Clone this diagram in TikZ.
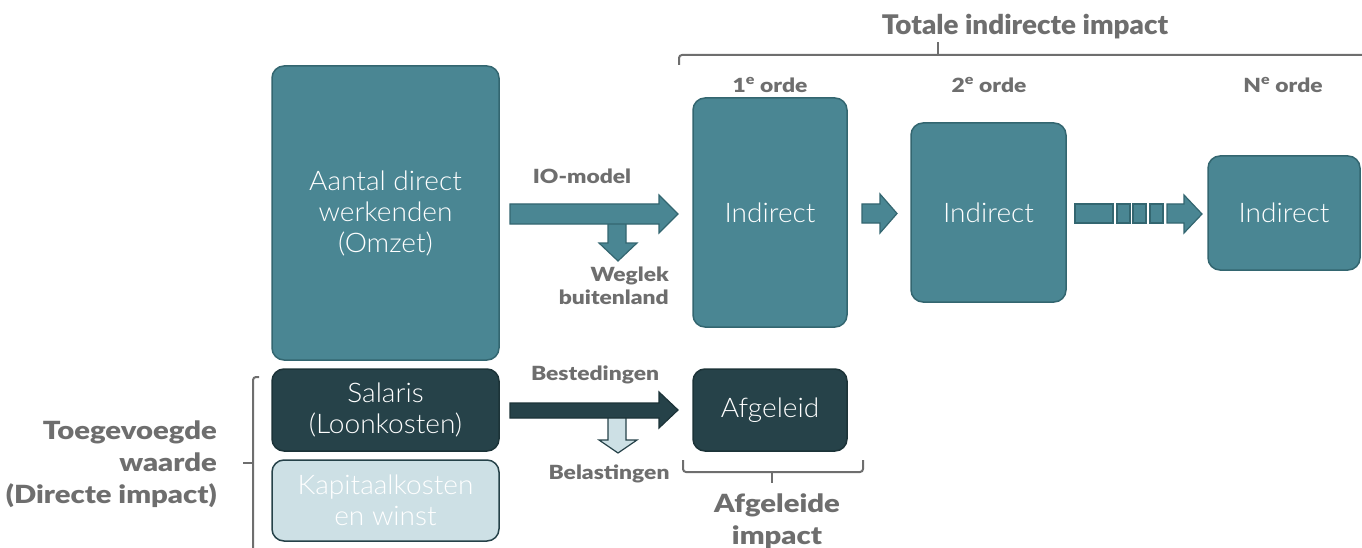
\documentclass[tikz,border=0pt]{standalone}
\usepackage{fontspec}
\setmainfont{Lato}
\newfontfamily\lightfont{Lato Light}[FakeStretch=1.04]
\newfontfamily\heavyfont{Lato Black}[FakeStretch=1.17]
\newfontfamily\titlefont{Lato Black}[FakeStretch=1.03]
\definecolor{tealfill}{HTML}{4A8693}
\definecolor{tealedge}{HTML}{336670}
\definecolor{darkfill}{HTML}{264249}
\definecolor{darkedge}{HTML}{1C3338}
\definecolor{lightfill}{HTML}{CDE0E5}
\definecolor{labelgray}{HTML}{6E6E6E}
\tikzset{
  blk/.style={rounded corners=12pt, line width=1.5pt, inner sep=0pt, align=center,
    font=\lightfont\fontsize{27}{31}\selectfont, text=white},
  tealbox/.style={blk, draw=tealedge, fill=tealfill},
  darkbox/.style={blk, draw=darkedge, fill=darkfill},
  lightbox/.style={blk, draw=darkfill, fill=lightfill},
  bigarrow/.style={line width=1.2pt, line join=miter},
  lbl/.style={font=\heavyfont\fontsize{19.5}{23}\selectfont, text=labelgray, inner sep=0pt},
  biglbl/.style={font=\heavyfont\fontsize{25}{32}\selectfont, text=labelgray, inner sep=0pt},
  brace/.style={draw=labelgray, line width=2pt, rounded corners=3pt},
}
\begin{document}
\begin{tikzpicture}[x=1pt,y=-1pt]
\useasboundingbox (0,0) rectangle (1362,548);

% boxes
\node[tealbox, minimum width=227pt, minimum height=294pt] (direct) at (385.5,213) {Aantal direct\\werkenden\\(Omzet)};
\node[darkbox, minimum width=227pt, minimum height=82pt] (salaris) at (385.5,410) {Salaris\\(Loonkosten)};
\node[lightbox, minimum width=227pt, minimum height=81pt] (kapitaal) at (385.5,500.5) {Kapitaalkosten\\en winst};
\node[tealbox, minimum width=154pt, minimum height=229pt] (ind1) at (770,212.5) {Indirect};
\node[tealbox, minimum width=155pt, minimum height=179pt] (ind2) at (988.5,212.5) {Indirect};
\node[tealbox, minimum width=152pt, minimum height=114pt] (ind3) at (1284,213) {Indirect};
\node[darkbox, minimum width=154pt, minimum height=82pt] (afgeleid) at (770,410) {Afgeleid};

% IO-model arrow with leak downwards
\draw[bigarrow, draw=tealedge, fill=tealfill] (608,222) -- (608,243) -- (599,243) -- (618,261) -- (637,243) -- (626,243) -- (626,222);
\draw[bigarrow, draw=tealedge, fill=tealfill] (510,204) -- (659,204) -- (659,195) -- (678,214) -- (659,233) -- (659,224) -- (510,224) -- cycle;

% first to second order
\draw[bigarrow, draw=tealedge, fill=tealfill] (862,204) -- (880,204) -- (880,194) -- (897,213.5) -- (880,233) -- (880,223) -- (862,223) -- cycle;

% broken arrow towards N-th order
\draw[bigarrow, draw=tealedge, fill=tealfill] (1075,204) rectangle (1113,223);
\draw[bigarrow, draw=tealedge, fill=tealfill] (1117,204) rectangle (1130,223);
\draw[bigarrow, draw=tealedge, fill=tealfill] (1133,204) rectangle (1146,223);
\draw[bigarrow, draw=tealedge, fill=tealfill] (1150,204) rectangle (1163,223);
\draw[bigarrow, draw=tealedge, fill=tealfill] (1167,204) -- (1184,204) -- (1184,195) -- (1202,214) -- (1184,233) -- (1184,223) -- (1167,223) -- cycle;

% spending arrow with taxes downwards
\draw[bigarrow, draw=darkfill, fill=lightfill] (608,417) -- (608,440) -- (599,440) -- (618,453) -- (637,440) -- (626,440) -- (626,417);
\draw[bigarrow, draw=darkedge, fill=darkfill] (510,403) -- (659,403) -- (659,392) -- (678,410) -- (659,428) -- (659,418) -- (510,418) -- cycle;

% arrow labels
\node[lbl] (io) at (582,176) {IO-model};
\node[lbl, align=right, anchor=east] (weglek) at (669,286) {Weglek\\buitenland};
\node[lbl] (besteding) at (595,375) {Bestedingen};
\node[lbl] (belasting) at (609,474) {Belastingen};

% order labels
\node[lbl] (o1) at (770,85) {1\textsuperscript{e} orde};
\node[lbl] (o2) at (989,85) {2\textsuperscript{e} orde};
\node[lbl] (oN) at (1283,85) {N\textsuperscript{e} orde};

% braces
\draw[brace] (679,65) -- (679,55) -- (1364,55);
\draw[brace] (938,55) -- (938,42);
\node[font=\titlefont\fontsize{27}{32}\selectfont, text=labelgray, inner sep=0pt] (totaal) at (1025,27) {Totale indirecte impact};

\draw[brace] (683,460) -- (683,472) -- (863,472) -- (863,460);
\draw[brace] (772,472) -- (772,483);
\node[biglbl, align=center] (afgimpact) at (777,521) {Afgeleide\\impact};

\draw[brace] (259,377) -- (253,377) -- (253,550);
\draw[brace] (253,463) -- (243,463);
\node[biglbl, align=right, anchor=east] (toegevoegd) at (217,464) {Toegevoegde\\waarde\\(Directe impact)};
\end{tikzpicture}
\end{document}
